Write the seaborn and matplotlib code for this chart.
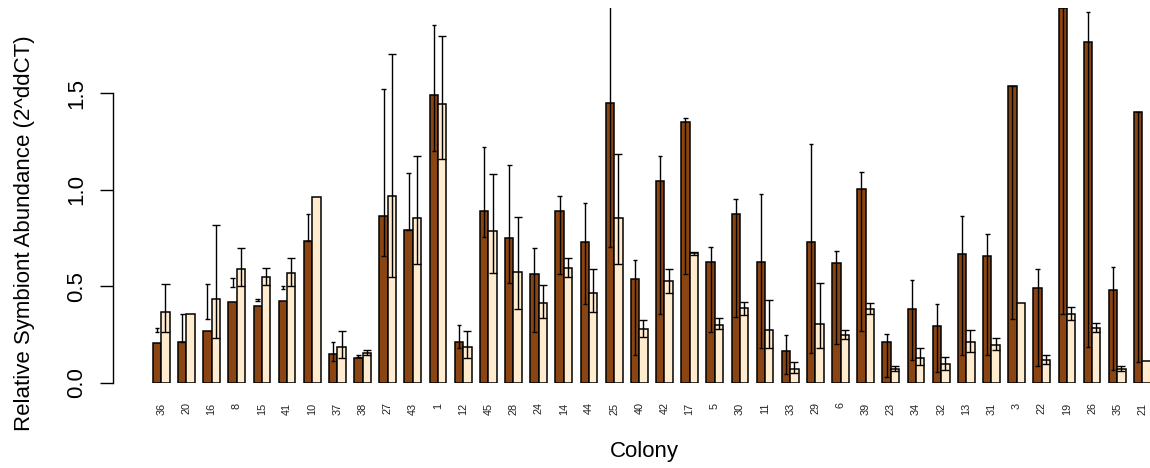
import numpy as np
import pandas as pd
import matplotlib
matplotlib.use("Agg")
import matplotlib.pyplot as plt
import seaborn as sns

colonies = ["36", "20", "16", "8", "15", "41", "10", "37", "38", "27",
            "43", "1", "12", "45", "28", "24", "14", "44", "25", "40",
            "42", "17", "5", "30", "11", "33", "29", "6", "39", "23",
            "34", "32", "13", "31", "3", "22", "19", "26", "35", "21"]

# first (dark) series
dark_mean = [0.205, 0.21, 0.271, 0.42, 0.398, 0.424, 0.738, 0.148, 0.128, 0.864,
             0.79, 1.493, 0.21, 0.89, 0.75, 0.567, 0.89, 0.733, 1.45, 0.541,
             1.045, 1.352, 0.628, 0.874, 0.628, 0.164, 0.728, 0.624, 1.005, 0.214,
             0.385, 0.293, 0.669, 0.66, 1.538, 0.49, 1.94, 1.766, 0.48, 1.405]
dark_lo = [0.265, 0.21, 0.33, 0.495, 0.427, 0.485, 0.738, 0.114, 0.137, 0.659,
           0.79, 1.202, 0.179, 0.754, 0.519, 0.265, 0.567, 0.407, 0.702, 0.145,
           0.357, 0.567, 0.262, 0.343, 0.179, 0.045, 0.154, 0.2, 0.271, 0.033,
           0.119, 0.059, 0.143, 0.143, 0.331, 0.088, 0.357, 0.188, 0.067, 0.11]
dark_hi = [0.285, 0.357, 0.512, 0.542, 0.433, 0.503, 0.878, 0.21, 0.143, 1.523,
           1.088, 1.856, 0.303, 1.222, 1.129, 0.697, 0.969, 0.935, 2.4, 0.636,
           1.176, 1.374, 0.704, 0.955, 0.981, 0.247, 1.24, 0.685, 1.093, 0.252,
           0.533, 0.409, 0.864, 0.774, 1.538, 0.59, 2.3, 1.921, 0.602, 1.405]

# second (light) series
light_mean = [0.369, 0.358, 0.435, 0.593, 0.55, 0.571, 0.962, 0.186, 0.154, 0.969,
              0.855, 1.445, 0.186, 0.788, 0.573, 0.415, 0.597, 0.464, 0.854, 0.281,
              0.526, 0.671, 0.3, 0.386, 0.276, 0.071, 0.307, 0.248, 0.385, 0.071,
              0.131, 0.097, 0.212, 0.198, 0.415, 0.119, 0.358, 0.286, 0.074, 0.112]
light_lo = [0.265, np.nan, 0.231, 0.502, 0.507, 0.502, np.nan, 0.128, 0.146, 0.55,
            0.619, 1.161, 0.131, 0.571, 0.381, 0.338, 0.547, 0.366, 0.614, 0.236,
            0.467, 0.665, 0.281, 0.352, 0.179, 0.053, 0.179, 0.226, 0.355, 0.062,
            0.093, 0.066, 0.162, 0.171, np.nan, 0.097, 0.326, 0.265, 0.062, np.nan]
light_hi = [0.512, np.nan, 0.817, 0.697, 0.597, 0.65, np.nan, 0.269, 0.171, 1.706,
            1.178, 1.797, 0.269, 1.083, 0.86, 0.509, 0.648, 0.591, 1.185, 0.326,
            0.591, 0.68, 0.335, 0.42, 0.431, 0.107, 0.519, 0.272, 0.415, 0.088,
            0.183, 0.136, 0.272, 0.234, np.nan, 0.145, 0.393, 0.312, 0.09, np.nan]

series = ["Series 1", "Series 2"]
colors = ["#8B4513", "#FFEBCD"]

df = pd.DataFrame({
    "Colony": colonies * 2,
    "Abundance": dark_mean + light_mean,
    "Series": [series[0]] * len(colonies) + [series[1]] * len(colonies),
})

fig = plt.figure(figsize=(11.5, 4.68), dpi=100)
ax = fig.add_axes([113 / 1150, 85 / 468, 1077.7 / 1150, 374.5 / 468])

sns.barplot(data=df, x="Colony", y="Abundance", hue="Series", hue_order=series,
            order=colonies, palette=colors, saturation=1, width=2 / 3,
            edgecolor="black", linewidth=1.1, errorbar=None, legend=False, ax=ax)

plt.rcParams["font.family"] = ["Liberation Sans", "DejaVu Sans"]

# error bars, one set per series, centred on the bars seaborn drew
err = [(dark_lo, dark_hi, 0.09), (light_lo, light_hi, 0.16)]
for cont, (lo, hi, half) in zip(ax.containers, err):
    xs = np.array([b.get_x() + b.get_width() / 2 for b in cont])
    lo = np.array(lo)
    hi = np.array(hi)
    ok = ~np.isnan(lo)
    ax.vlines(xs[ok], lo[ok], hi[ok], color="black", lw=1.0, zorder=5)
    ax.hlines(lo[ok], xs[ok] - half, xs[ok] + half, color="black", lw=1.0, zorder=5)
    ax.hlines(hi[ok], xs[ok] - half, xs[ok] + half, color="black", lw=1.0, zorder=5)

ax.set_xlim(-1.92, 40.92)
ax.set_ylim(0, 1.94)

for s in ["top", "right", "bottom"]:
    ax.spines[s].set_visible(False)
ax.spines["left"].set_bounds(0, 1.5)
ax.spines["left"].set_linewidth(1.0)

ax.set_yticks([0, 0.5, 1.0, 1.5])
ax.set_yticklabels(["0.0", "0.5", "1.0", "1.5"], family="Liberation Sans", fontsize=16)
ax.tick_params(axis="y", length=9.5, width=1.0, pad=9, labelrotation=90)
for t in ax.get_yticklabels():
    t.set_va("center")

ax.tick_params(axis="x", length=0, pad=14)
for t in ax.get_xticklabels():
    t.set_rotation(90)
    t.set_fontsize(7.8)
    t.set_family("Liberation Sans")
    t.set_color("#222222")

ax.set_ylabel("Relative Symbiont Abundance (2^ddCT)", fontsize=16, family="Liberation Sans")
ax.yaxis.set_label_coords(-89 / 1077.7, 150 / 374.5)
ax.yaxis.label.set_va("center")
ax.set_xlabel("Colony", fontsize=16, family="Liberation Sans")
ax.xaxis.set_label_coords(531 / 1077.7, -69 / 374.5)
ax.xaxis.label.set_va("center")

fig.savefig("out.png", dpi=100)
